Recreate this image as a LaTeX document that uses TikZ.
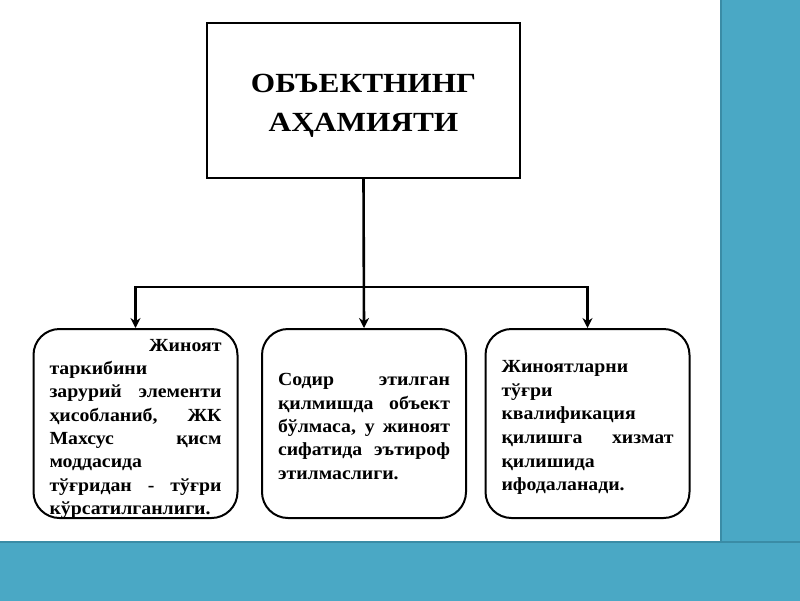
\documentclass[tikz,border=0pt]{standalone}
\usepackage{fontspec}
\setmainfont[FakeStretch=1.07]{Liberation Serif}
\newfontfamily\headfont[FakeStretch=1.13]{Liberation Serif}
\usetikzlibrary{arrows.meta,positioning}
\definecolor{barblue}{HTML}{4AA8C5}
\definecolor{baredge}{HTML}{3A8CA6}
\tikzstyle{head} = [draw,line width=2pt,rectangle,minimum width=313pt,minimum height=155pt,inner sep=0]
\tikzstyle{headtext} = [inner sep=0,align=center,font=\headfont\fontsize{27.7}{38.5}\selectfont\bfseries]
\tikzstyle{card} = [draw,line width=2pt,rectangle,rounded corners=26pt,minimum width=204pt,minimum height=189pt,inner sep=0]
\tikzstyle{cardtext} = [inner sep=0,text width=172pt,align=justify,font=\fontsize{18.5}{23.3}\selectfont\bfseries\sloppy]
\tikzstyle{link} = [-{Stealth[length=10pt,width=10pt]},line width=2.6pt]
\tikzstyle{bar} = [fill=barblue,draw=baredge,line width=1.5pt]

\begin{document}
\begin{tikzpicture}[x=1pt,y=-1pt]
  \useasboundingbox (0,0) rectangle (800,600);
  \draw[bar] (721,-2) rectangle (802,542);
  \draw[bar] (-2,542) rectangle (802,602);
  \node[head] (obj) at (363.5,100.5) {};
  \node[headtext,below=52pt of obj.north] (objtext) {ОБЪЕКТНИНГ\\АҲАМИЯТИ};
  \node[card] (left) at (135.5,423.5) {};
  \node[card] (mid) at (364,423.5) {};
  \node[card] (right) at (587.5,423.5) {};
  \node[cardtext,below=11pt of left.north] (lefttext) {\mbox{}\hfill Жиноят\linebreak
    таркибини\newline
    зарурий элементи\linebreak
    ҳисобланиб, ЖК\linebreak
    Махсус қисм\linebreak
    моддасида\newline
    тўғридан - тўғри\linebreak
    кўрсатилганлиги.};
  \node[cardtext,below=45.5pt of mid.north] (midtext) {Содир этилган\linebreak
    қилмишда объект\linebreak
    бўлмаса, у жиноят\linebreak
    сифатида эътироф\linebreak
    этилмаслиги.};
  \node[cardtext,below=32pt of right.north,font=\fontsize{18.5}{23.7}\selectfont\bfseries\sloppy] (righttext) {Жиноятларни\newline
    тўғри\newline
    квалификация\newline
    қилишга хизмат\linebreak
    қилишида\newline
    ифодаланади.};
  \coordinate (fork) at (363.5,287);
  \draw[link] (obj.south) -- (mid.north);
  \draw[link] (fork) -| (left.north);
  \draw[link] (fork) -| (right.north);
\end{tikzpicture}
\end{document}
